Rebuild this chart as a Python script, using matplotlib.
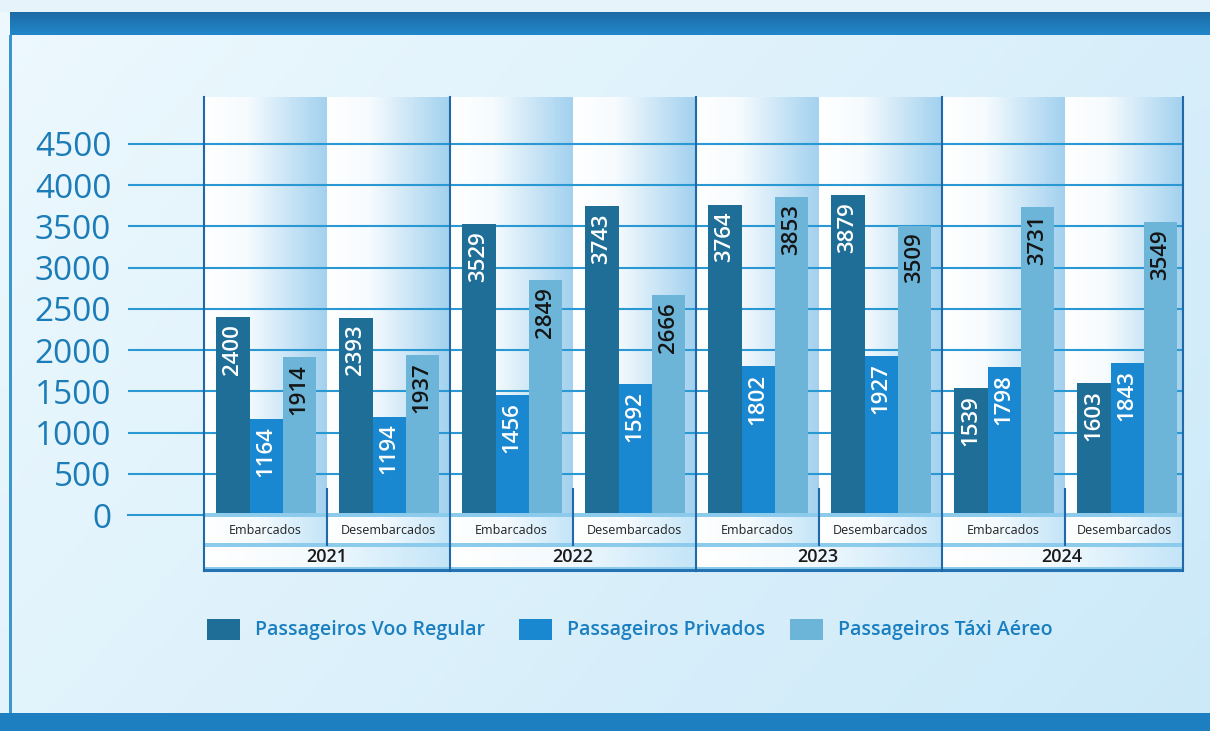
import numpy as np
import matplotlib
matplotlib.use("Agg")
import matplotlib.pyplot as plt
from matplotlib.colors import LinearSegmentedColormap
from matplotlib.patches import Rectangle
from matplotlib.transforms import blended_transform_factory

# ---- data -------------------------------------------------------------
years = ["2021", "2022", "2023", "2024"]
movements = ["Embarcados", "Desembarcados"]
series_names = ["Passageiros Voo Regular", "Passageiros Privados", "Passageiros Táxi Aéreo"]
voo_regular = [2400, 2393, 3529, 3743, 3764, 3879, 1539, 1603]
privados = [1164, 1194, 1456, 1592, 1802, 1927, 1798, 1843]
taxi_aereo = [1914, 1937, 2849, 2666, 3853, 3509, 3731, 3549]
y_ticks = [0, 500, 1000, 1500, 2000, 2500, 3000, 3500, 4000, 4500]

# ---- style ------------------------------------------------------------
plt.rcParams["font.family"] = ["Open Sans", "DejaVu Sans"]
series_colors = ["#1f6e98", "#1a88d0", "#6cb4d8"]
value_colors = ["white", "white", "#151515"]
axis_blue = "#1b7cb8"
grid_blue = "#2a98d2"
frame_blue = "#2068a8"

W, H = 1210, 731
fig = plt.figure(figsize=(W / 100, H / 100), dpi=100)


def frac_box(x0, y0, x1, y1):
    """Pixel box (origin top-left) -> figure-fraction rect."""
    return [x0 / W, 1 - y1 / H, (x1 - x0) / W, (y1 - y0) / H]


# ---- page background --------------------------------------------------
bg = fig.add_axes([0, 0, 1, 1], zorder=0)
bg.set_xlim(0, W)
bg.set_ylim(H, 0)
bg.axis("off")
gy, gx = np.mgrid[0:1:64j, 0:1:128j]
t = np.clip(0.65 * gx + 0.35 * gy, 0, 1)[..., None]
c0 = np.array([0.93, 0.975, 0.995])
c1 = np.array([0.80, 0.915, 0.975])
bg.imshow(c0 * (1 - t) + c1 * t, extent=[0, W, H, 0], aspect="auto",
          interpolation="bilinear", zorder=0)
bg.add_patch(Rectangle((0, 0), W, 12, facecolor="#e6f3fb", edgecolor="none", zorder=1))
band = np.linspace(0, 1, 32)[:, None, None]
top_dark = np.array([0.11, 0.42, 0.65])
top_light = np.array([0.13, 0.53, 0.79])
bg.imshow(top_dark * (1 - band) + top_light * band, extent=[10, W, 35, 12],
          aspect="auto", interpolation="bilinear", zorder=2)
bg.add_patch(Rectangle((0, 713), W, H - 713, facecolor="#1e7fc0", edgecolor="none", zorder=2))
bg.add_patch(Rectangle((9, 35), 2.5, 678, facecolor="#3b95d0", edgecolor="none", zorder=2))
bg.set_xlim(0, W)
bg.set_ylim(H, 0)

# ---- main plot --------------------------------------------------------
n = len(voo_regular)
unit = 123.0                      # pixels per category slot
xmin = -76 / unit
xmax = (1183 - 204) / unit
ytop = 5070
ax = fig.add_axes(frac_box(128, 97, 1183, 515), zorder=2)
ax.patch.set_alpha(0)

col_cmap = LinearSegmentedColormap.from_list(
    "col", [(0, "#ffffff"), (0.35, "#f6fbfe"), (1, "#a2d1ef")])
ramp = np.linspace(0, 1, 128)[None, :]
for i in range(n):
    ax.imshow(ramp, extent=[i, min(i + 1, xmax), 0, ytop], aspect="auto", cmap=col_cmap,
              vmin=0, vmax=1, interpolation="bilinear", zorder=0)

for v in y_ticks[1:]:
    ax.axhline(v, color=grid_blue, lw=1.5, zorder=1)
ax.plot([xmin, 0], [0, 0], color=grid_blue, lw=1.5, zorder=1, clip_on=False)

bar_w = 0.27
offsets = [0.235, 0.505, 0.775]
idx = np.arange(n)
for series, off, col, tcol in zip([voo_regular, privados, taxi_aereo],
                                  offsets, series_colors, value_colors):
    ax.bar(idx + off, series, width=bar_w, color=col, zorder=3, linewidth=0)
    for x, v in zip(idx + off, series):
        ax.annotate(f"{v}", (x, v), xytext=(0, -5), textcoords="offset points",
                    rotation=90, ha="center", va="top", fontsize=16,
                    fontweight="semibold", color=tcol, zorder=4)

ax.set_xlim(xmin, xmax)
ax.set_ylim(0, ytop)
ax.set_xticks([])
ax.set_yticks(y_ticks)
ax.tick_params(axis="y", length=0, pad=12, labelsize=24, labelcolor=axis_blue)
for s in ax.spines.values():
    s.set_visible(False)

# ---- category table under the bars ------------------------------------
tab = fig.add_axes(frac_box(128, 513, 1183, 573), zorder=3)
tab.patch.set_alpha(0)
tab.axis("off")
tab.add_patch(Rectangle((0, 513), xmax, 58, facecolor="#8ccbec", edgecolor="none", zorder=0))
cell_cmap = LinearSegmentedColormap.from_list(
    "cell", [(0, "#ffffff"), (0.45, "#f4fafe"), (1, "#c4e5f8")])
for i in range(n):
    right = min(i + 0.988, xmax - 0.012)
    tab.imshow(ramp, extent=[i + 0.012, right, 543, 517], aspect="auto",
               cmap=cell_cmap, vmin=0, vmax=1, interpolation="bilinear", zorder=1)
    tab.text((i + right) / 2 + 0.006, 530, movements[i % 2], ha="center", va="center",
             fontsize=9, color="#222222", zorder=3)
for j, yr in enumerate(years):
    right = min(2 * j + 1.988, xmax - 0.012)
    tab.imshow(ramp, extent=[2 * j + 0.012, right, 567, 547], aspect="auto",
               cmap=cell_cmap, vmin=0, vmax=1, interpolation="bilinear", zorder=1)
    tab.text((2 * j + right) / 2, 557, yr, ha="center", va="center", fontsize=13,
             fontweight="semibold", color="#1a1a1a", zorder=3)
tab.plot([0, xmax], [569.5, 569.5], color="#2474b3", lw=2.2, zorder=4)
tab.set_xlim(xmin, xmax)
tab.set_ylim(573, 513)

# ---- frame lines and legend (overlay in pixel coordinates) ------------
ov = fig.add_axes([0, 0, 1, 1], zorder=6)
ov.patch.set_alpha(0)
ov.axis("off")
ov.set_xlim(0, W)
ov.set_ylim(H, 0)
tr = blended_transform_factory(ax.transData, ov.transData)
for x in [0, 2, 4, 6, xmax]:
    ov.plot([x, x], [97, 571], transform=tr, color=frame_blue, lw=1.5)
for x in range(1, n, 2):
    ov.plot([x, x], [489, 545], transform=tr, color=frame_blue, lw=1.5)

legend_x = [207, 519, 790]
for lx, name, col in zip(legend_x, series_names, series_colors):
    ov.add_patch(Rectangle((lx, 619), 33, 21, facecolor=col, edgecolor="none"))
    ov.text(lx + 48, 629.5, name, ha="left", va="center", fontsize=14,
            fontweight="semibold", color="#1a7fc0")

fig.savefig("out.png", dpi=100)
